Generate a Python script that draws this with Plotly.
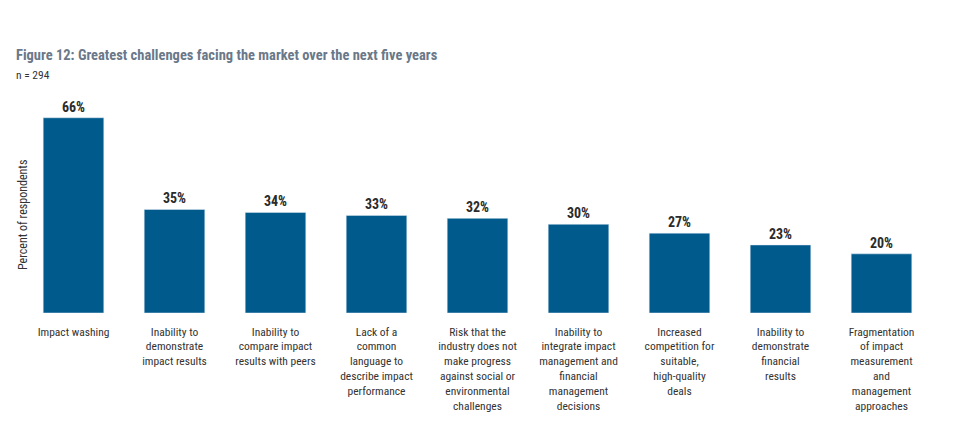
import plotly.graph_objects as go

categories = [
    "Impact washing",
    "Inability to<br>demonstrate<br>impact results",
    "Inability to<br>compare impact<br>results with peers",
    "Lack of a<br>common<br>language to<br>describe impact<br>performance",
    "Risk that the<br>industry does not<br>make progress<br>against social or<br>environmental<br>challenges",
    "Inability to<br>integrate impact<br>management and<br>financial<br>management<br>decisions",
    "Increased<br>competition for<br>suitable,<br>high-quality<br>deals",
    "Inability to<br>demonstrate<br>financial<br>results",
    "Fragmentation<br>of impact<br>measurement<br>and<br>management<br>approaches",
]
values = [66, 35, 34, 33, 32, 30, 27, 23, 20]

FONT = "Liberation Sans Narrow, Arial Narrow, Roboto Condensed, sans-serif"

fig = go.Figure(
    go.Bar(
        x=categories,
        y=values,
        marker=dict(color="#005a8c"),
        texttemplate="<b>%{y}%</b>",
        textposition="outside",
        textfont=dict(family=FONT, size=14, color="#2b2b2b"),
        cliponaxis=False,
    )
)

fig.update_layout(
    width=964,
    height=425,
    margin=dict(l=15, r=40, t=92, b=120),
    paper_bgcolor="white",
    plot_bgcolor="white",
    bargap=0.4,
    showlegend=False,
    font=dict(family=FONT, size=12, color="#333333"),
    xaxis=dict(
        automargin=False,
        showline=False,
        showgrid=False,
        zeroline=False,
        ticks="",
        ticklabelstandoff=10,
        tickfont=dict(family=FONT, size=11.5, color="#333333"),
        fixedrange=True,
    ),
    yaxis=dict(
        automargin=False,
        range=[0, 72],
        showticklabels=False,
        showgrid=False,
        zeroline=False,
        showline=False,
        ticks="",
    ),
    annotations=[
        dict(
            text="<b>Figure 12: Greatest challenges facing the market over the next five years</b>",
            xref="paper", yref="paper", x=0, y=1, xshift=-9, yshift=45,
            xanchor="left", yanchor="middle", showarrow=False,
            font=dict(family=FONT, size=14.5, color="#6a7889"),
        ),
        dict(
            text="n = 294",
            xref="paper", yref="paper", x=0, y=1, xshift=-9, yshift=25,
            xanchor="left", yanchor="middle", showarrow=False,
            font=dict(family=FONT, size=11.5, color="#333333"),
        ),
        dict(
            text="Percent of respondents",
            xref="paper", yref="paper", x=0, y=0.46, xshift=0,
            xanchor="center", yanchor="middle", textangle=-90, showarrow=False,
            font=dict(family=FONT, size=12, color="#333333"),
        ),
    ],
)

fig.write_html("out.html")
